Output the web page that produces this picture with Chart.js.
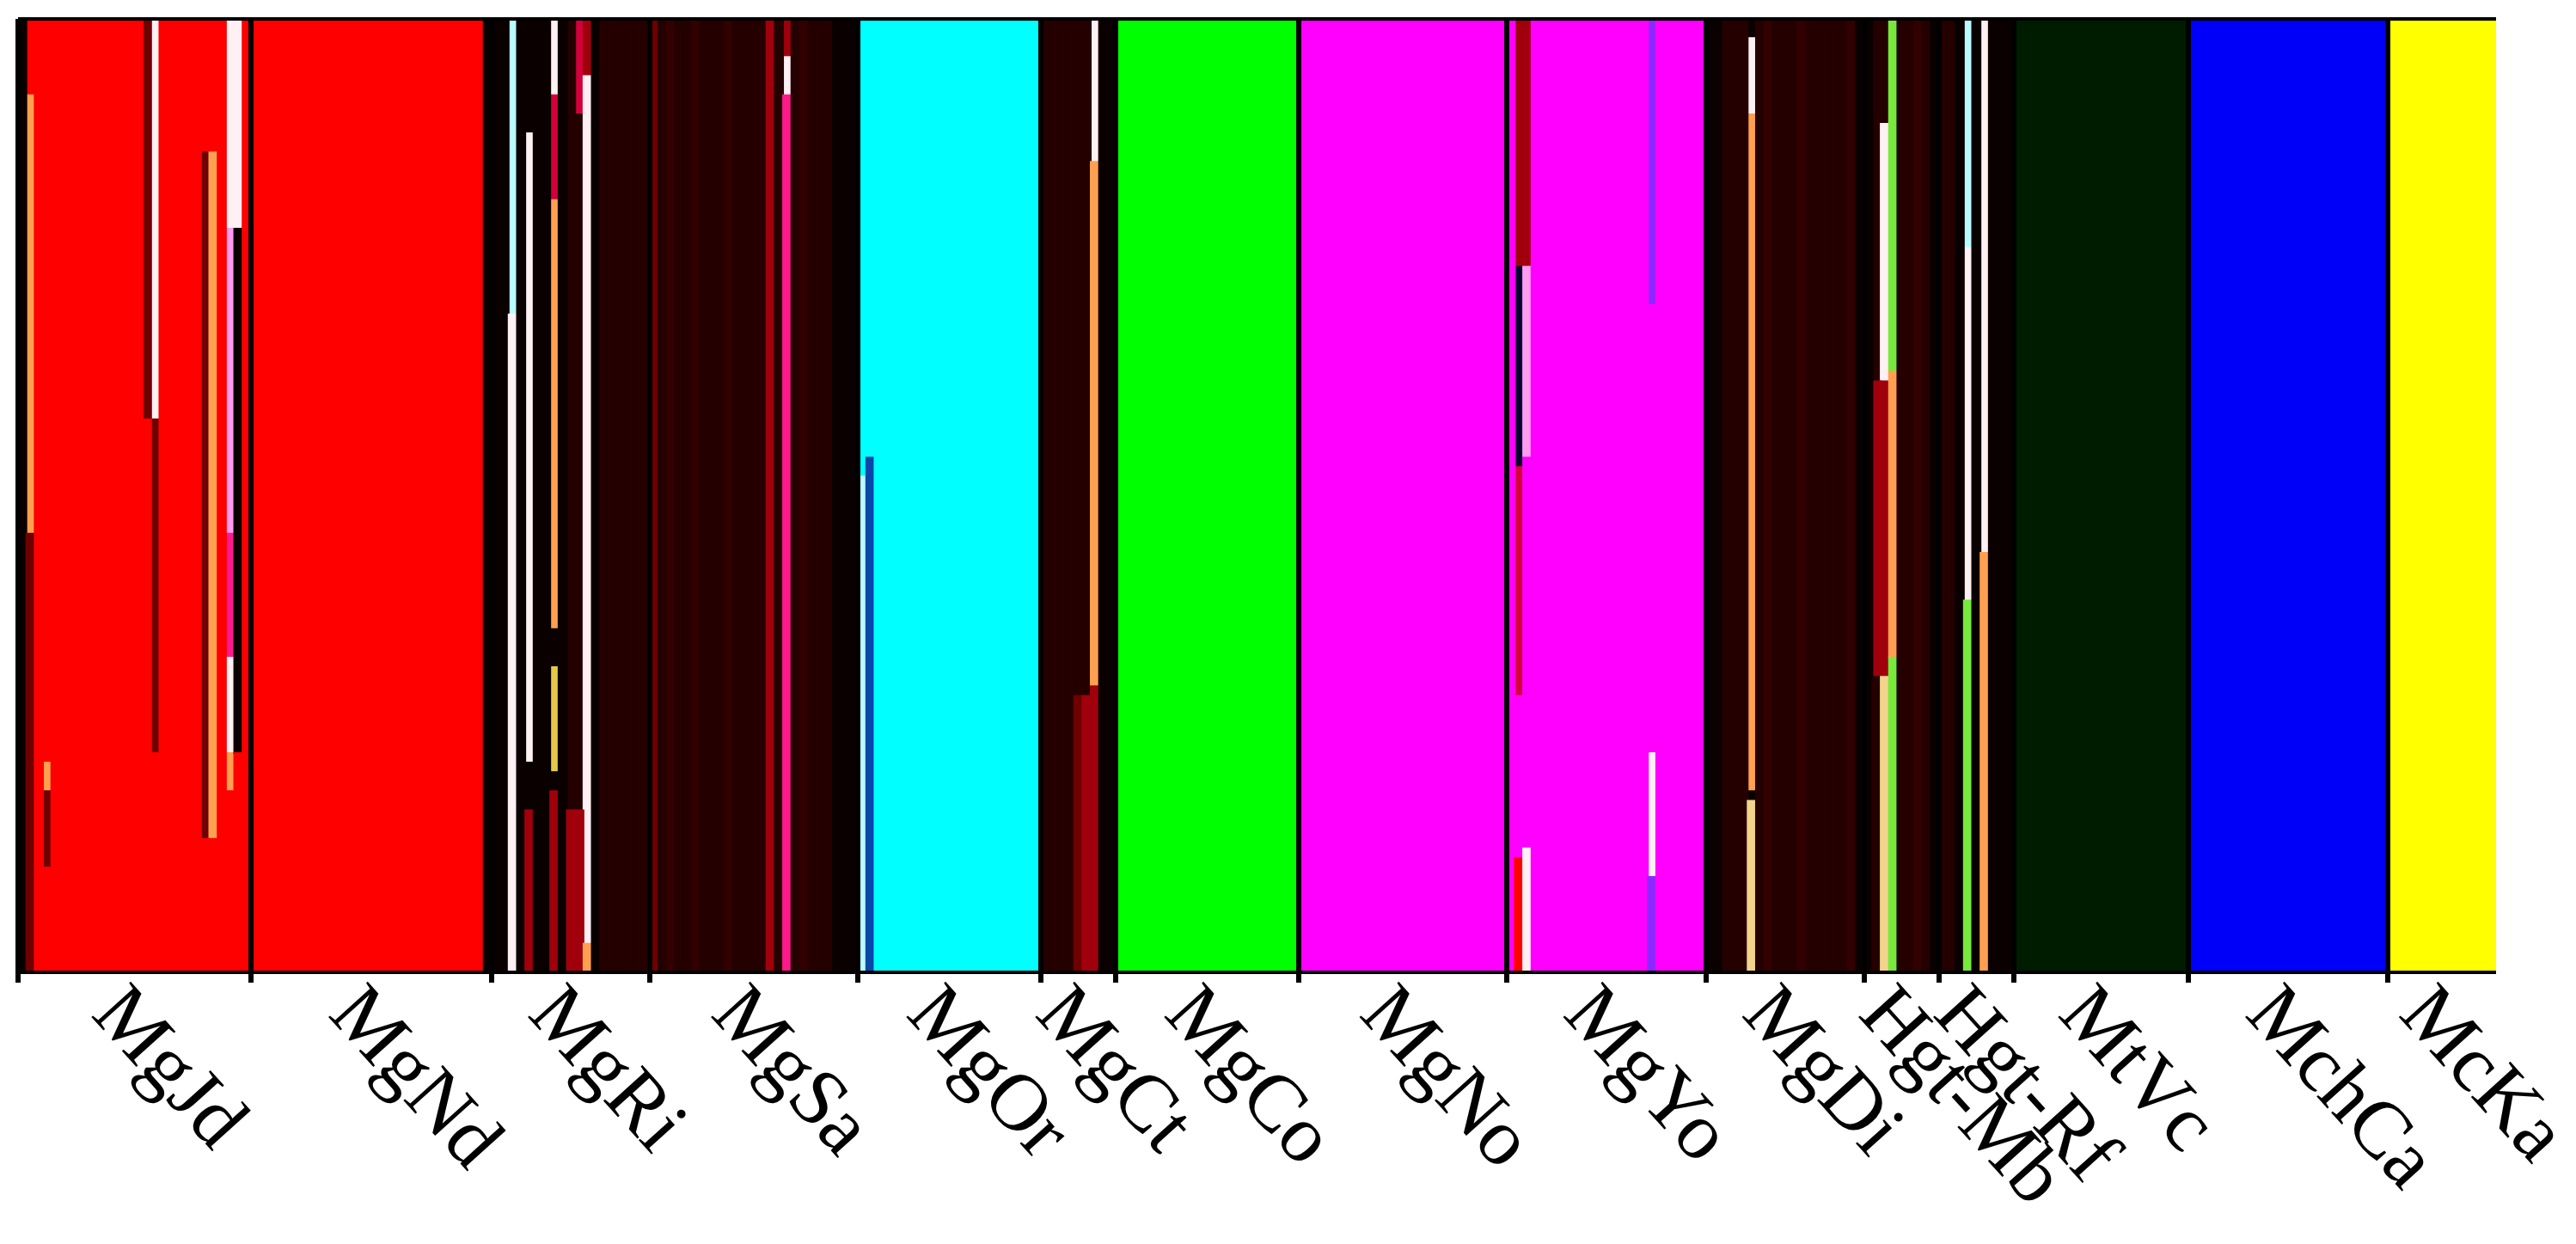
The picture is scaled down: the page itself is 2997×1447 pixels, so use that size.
<!DOCTYPE html>
<html>
<head>
<meta charset="utf-8">
<script src="https://cdn.jsdelivr.net/npm/chart.js@4.4.1/dist/chart.umd.min.js"></script>
<style>
  html, body { margin: 0; padding: 0; background: #fff; }
  canvas { display: block; }
</style>
</head>
<body>
<canvas id="structure" width="2997" height="1447"></canvas>
<script>
// population names, in plot order
const populations = ['MgJd', 'MgNd', 'MgRi', 'MgSa', 'MgOr', 'MgCt', 'MgCo', 'MgNo',
  'MgYo', 'MgDi', 'Hgt-Mb', 'Hgt-Rf', 'MtVc', 'MchCa', 'McKa'];

// cluster colours (codes used in the membership strings below)
const clusterColors = {
  R: '#fe0000', n: '#6e0000', r: '#a0000c', c: '#d4003a', K: '#0a0000',
  D: '#240000', d: '#320000', O: '#ffa050', W: '#fff0f4', L: '#ff9cf0',
  P: '#ff1a8c', l: '#b8fcff', y: '#e8c848', C: '#00ffff', b: '#0a48a8',
  G: '#00ff00', M: '#ff00ff', N: '#080030', V: '#8c28ff', T: '#f2d48c',
  g: '#78e83c', E: '#001c00', B: '#0000fa', Y: '#ffff00'
};

// one token per individual; segments bottom -> top as code+fraction, joined by |
const MgJd = 'K n.46|O.46|R.08 R R.11|n.08|O.03|R.78 R R R R R R R R R R R R.58|n.42 R.23|n.35|W.42 R R R R R R.14|n.72|R.14 R.14|O.72|R.14 R R.19|O.04|W.10|P.13|L.32|W.22 R.23|K.55|W.22 R';
const MgNd = 'R R R R R R R R R R R R R R R R R R R R R R R R R R R R K';
const MgRi = 'K K W.69|l.31 K r.17|K.05|W.66|K.12 K K r.19|K.02|y.11|K.04|O.45|c.11|W.08 K r.17|D.83 r.17|D.73|c.10 O.03|W.91|r.06 K D D D D D D';
const MgSa = 'n D d D D d D D D d D D D D r D P.92|W.04|r.04 D d D D D K K K';
const MgOr = 'l.52|C.48 b.54|C.46 C C C C C C C C C C C C C C C C C C C C';
const MgCt = 'D D D D n.29|D.71 r.29|D.71 r.30|O.55|W.15 K K';
const MgCo = 'G G G G G G G G G G G G G G G G G G G G G G';
const MgNo = 'M M M M M M M M M M M M M M M M M M M M M M M M M';
const MgYo = 'M R.12|M.17|c.24|N.21|r.26 W.13|M.41|L.20|r.26 M M M M M M M M M M M M M M V.10|W.13|M.47|V.30 M M M M M M';
const MgDi = 'K K D D D T.18|K.01|O.71|W.08|K.02 D d D D D d D D D D D d K';
const HgtMb = 'K D.31|r.31|D.38 T.31|r.31|W.27|D.11 g.33|O.30|g.37 D D d D K';
const HgtRf = 'D D K g.39|W.37|l.24 K O.44|W.56 K K K';
const MtVc = 'E E E E E E E E E E E E E E E E E E E E E';
const MchCa = 'B B B B B B B B B B B B B B B B B B B B B B B B';
const McKa = 'Y Y Y Y Y Y Y Y Y Y Y Y Y';

const memberships = [MgJd, MgNd, MgRi, MgSa, MgOr, MgCt, MgCo, MgNo,
  MgYo, MgDi, HgtMb, HgtRf, MtVc, MchCa, McKa];

// build individuals, labels and population boundaries
const individuals = [];
const labels = [];
const popSizes = [];
const boundaries = new Set([0]);
memberships.forEach((str, p) => {
  const toks = str.trim().split(/\s+/);
  toks.forEach((tok, i) => {
    individuals.push(tok.split('|').map(s => [s[0], s.length > 1 ? parseFloat(s.slice(1)) : 1]));
    labels.push(populations[p] + ' ' + (i + 1));
  });
  popSizes.push(toks.length);
  boundaries.add(individuals.length);
});

const nLayers = Math.max(...individuals.map(s => s.length));
const datasets = [];
for (let k = 0; k < nLayers; k++) {
  datasets.push({
    label: 'layer ' + (k + 1),
    data: individuals.map(s => (s[k] ? s[k][1] : null)),
    backgroundColor: individuals.map(s => (s[k] ? clusterColors[s[k][0]] : 'transparent')),
    borderWidth: 0,
    inflateAmount: 1,
    barPercentage: 1,
    categoryPercentage: 1
  });
}

// population names under the plot, slanted downwards to the right
const popLabels = {
  id: 'popLabels',
  afterDraw(chart) {
    const { ctx, chartArea } = chart;
    const x = chart.scales.x;
    const half = (chartArea.right - chartArea.left) / labels.length / 2;
    ctx.save();
    ctx.font = '94px "Liberation Serif", "Times New Roman", serif';
    ctx.fillStyle = '#000';
    ctx.textAlign = 'left';
    ctx.textBaseline = 'alphabetic';
    let start = 0;
    populations.forEach((name, p) => {
      const n = popSizes[p];
      const left = x.getPixelForValue(start) - half;
      const right = x.getPixelForValue(start + n - 1) + half;
      const cx = (left + right) / 2;
      ctx.save();
      ctx.translate(cx - 52, chartArea.bottom + 50);
      ctx.rotate(48 * Math.PI / 180);
      ctx.fillText(name, 0, 0);
      ctx.restore();
      start += n;
    });
    ctx.restore();
  }
};

new Chart(document.getElementById('structure'), {
  type: 'bar',
  data: { labels: labels, datasets: datasets },
  options: {
    responsive: false,
    animation: false,
    devicePixelRatio: 1,
    layout: { padding: { top: 22, right: 93, left: 21, bottom: 0 } },
    plugins: { legend: { display: false }, tooltip: { enabled: false } },
    scales: {
      x: {
        stacked: true,
        ticks: { display: false },
        border: { display: false },
        grid: {
          z: 1,
          offset: true,
          drawTicks: true,
          tickLength: 12,
          color: ctx => (boundaries.has(ctx.index) ? '#000' : 'rgba(0,0,0,0)'),
          lineWidth: ctx => (boundaries.has(ctx.index) ? 6 : 0)
        },
        afterFit: s => { s.height = 316; }
      },
      y: {
        stacked: true,
        min: 0,
        max: 1,
        ticks: { display: false, stepSize: 1 },
        border: { display: false },
        grid: { z: 1, color: '#000', lineWidth: 4, drawTicks: false },
        afterFit: s => { s.width = 0; }
      }
    }
  },
  plugins: [popLabels]
});
</script>
</body>
</html>
